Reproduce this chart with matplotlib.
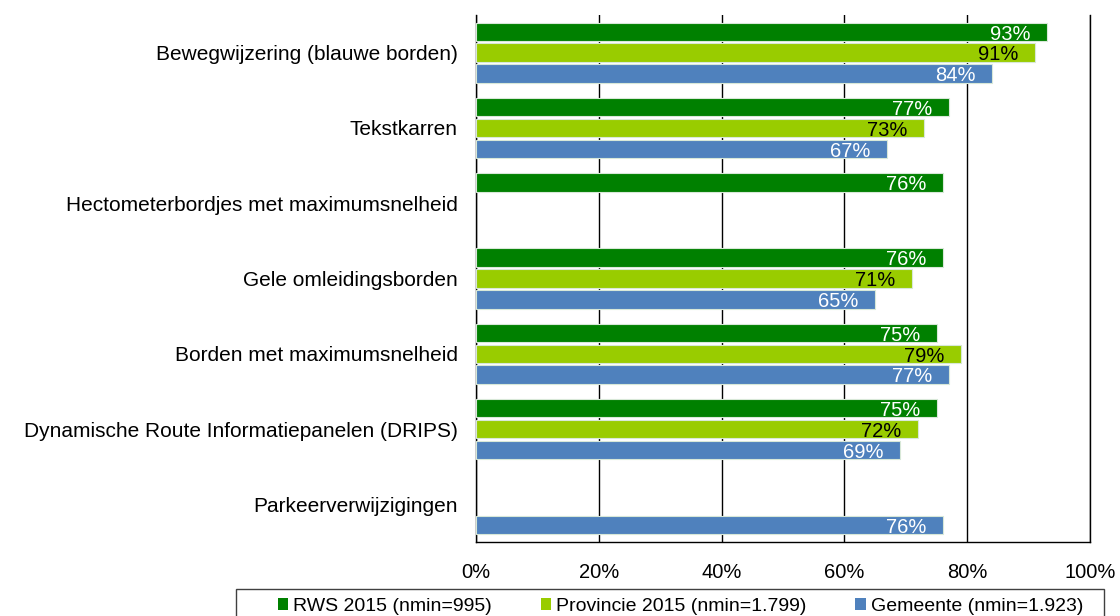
import matplotlib
matplotlib.use("Agg")
import matplotlib.pyplot as plt
import numpy as np
from matplotlib.patches import Patch, Rectangle

categories = ["Bewegwijzering (blauwe borden)", "Tekstkarren",
              "Hectometerbordjes met maximumsnelheid", "Gele omleidingsborden",
              "Borden met maximumsnelheid", "Dynamische Route Informatiepanelen (DRIPS)",
              "Parkeerverwijzigingen"]
rws = [93, 77, 76, 76, 75, 75, None]
provincie = [91, 73, None, 71, 79, 72, None]
gemeente = [84, 67, None, 65, 77, 69, 76]
series_names = ["RWS 2015 (nmin=995)", "Provincie 2015 (nmin=1.799)", "Gemeente (nmin=1.923)"]
colors = ["#008000", "#99CC00", "#4F81BD"]
label_colors = ["white", "black", "white"]
xticks = [0, 20, 40, 60, 80, 100]

plt.rcParams['font.family'] = ['Liberation Sans', 'DejaVu Sans']

fig = plt.figure(figsize=(11.2, 6.16), dpi=100)
ax = fig.add_axes([476/1120, 1-542/616, (1090-476)/1120, (542-15)/616])

n = len(categories)
y = np.arange(n)
offsets = [-0.277, 0, 0.277]
h = 0.245
for si, (vals, col, lc) in enumerate(zip([rws, provincie, gemeente], colors, label_colors)):
    for i, v in enumerate(vals):
        if v is None:
            continue
        yy = y[i] + offsets[si]
        ax.barh(yy, v, height=h, color=col, edgecolor="#d8e8d8", linewidth=0.8, zorder=3)
        ax.text(v - 2.7, yy + 0.03, f"{v}%", ha="right", va="center", color=lc, fontsize=14.5, zorder=4)

ax.set_ylim(n - 0.5, -0.5)
ax.set_xlim(0, 100)
ax.set_xticks(xticks)
ax.set_xticklabels([f"{t}%" for t in xticks], fontsize=14.5)
ax.set_yticks(y)
ax.set_yticklabels(categories, fontsize=15)
ax.tick_params(axis="both", length=0)
ax.tick_params(axis="x", pad=15)
ax.tick_params(axis="y", pad=13)
ax.xaxis.grid(True, color="black", linewidth=1, zorder=0)
ax.set_axisbelow(True)
ax.spines["top"].set_visible(False)
for s in ["left", "right", "bottom"]:
    ax.spines[s].set_color("black")
    ax.spines[s].set_linewidth(1)

# legend frame
fig.patches.append(Rectangle((236/1120, -0.05), (1104-236)/1120, 0.05 + (616-589)/616,
                             transform=fig.transFigure, facecolor="white",
                             edgecolor="#404040", linewidth=1, zorder=0))

handles = [Patch(facecolor=c, edgecolor="none") for c in colors]
leg = fig.legend(handles, series_names, loc="upper left", bbox_to_anchor=(269/1120, 1-589/616),
                 ncol=3, fontsize=14, frameon=False,
                 handlelength=0.55, handleheight=0.55, handletextpad=0.25, columnspacing=2.5,
                 borderpad=0.45, borderaxespad=0)

fig.savefig("out.png", dpi=100)
